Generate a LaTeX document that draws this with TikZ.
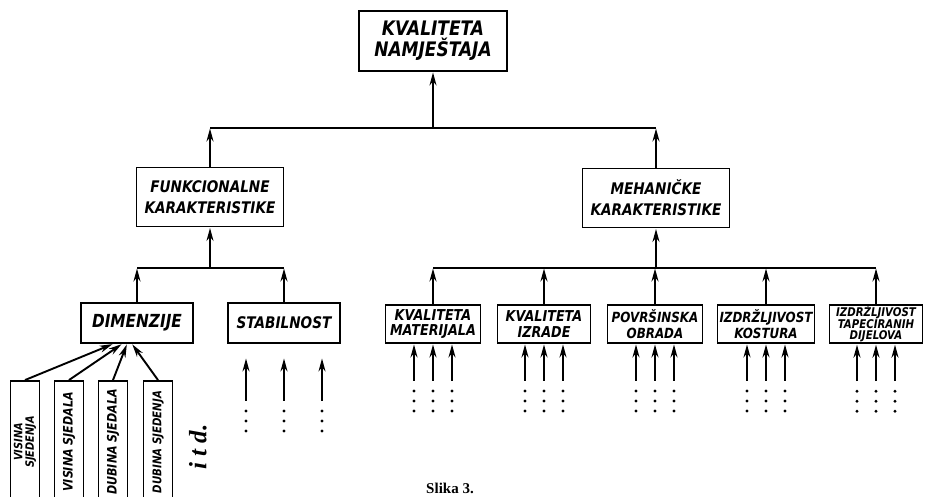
\documentclass[tikz,border=0pt]{standalone}
\usepackage{fontspec}
\setsansfont{DejaVu Sans}[FakeStretch=0.85]
\setmainfont{Liberation Serif}
\usetikzlibrary{arrows.meta,positioning,calc}

\begin{document}
\begin{tikzpicture}[x=1pt,y=-1pt,>={Stealth[length=13pt,width=7pt]},
  line width=1.9pt,shorten >=0.5pt,
  box/.style={draw,rectangle,inner sep=1pt,align=center,
  font=\sffamily\bfseries\itshape},
  topbox/.style={box,minimum width=148pt,minimum height=60pt,
  font=\sffamily\bfseries\itshape\fontsize{20}{21}\selectfont},
  midbox/.style={box,minimum width=147pt,minimum height=59pt,
  font=\sffamily\bfseries\itshape\fontsize{16}{21}\selectfont},
  subbox/.style={box,minimum width=112pt,minimum height=40pt,
  font=\sffamily\bfseries\itshape\fontsize{16}{17}\selectfont},
  leafbox/.style={box,minimum width=95pt,minimum height=38pt,
  font=\sffamily\bfseries\itshape\fontsize{15}{15.5}\selectfont},
  standbox/.style={box,rotate=90,minimum width=122pt,minimum height=29pt,
  font=\sffamily\bfseries\itshape\fontsize{13}{13}\selectfont}]

  \useasboundingbox (0,0) rectangle (925,497);

  % levels from the top down
  \node[topbox] (kn) at (433,41) {KVALITETA\\NAMJEŠTAJA};
  \node[midbox] (fk) at (210,197) {FUNKCIONALNE\\KARAKTERISTIKE};
  \node[midbox] (mk) at (656,198) {MEHANIČKE\\KARAKTERISTIKE};

  \node[subbox, font=\sffamily\bfseries\itshape\fontsize{18}{18}\selectfont]
    (dim) at (137,323) {DIMENZIJE};
  \node[subbox] (stab) at (284,323) {STABILNOST};

  \node[leafbox] (km) at (433,324) {KVALITETA\\MATERIJALA};
  \node[leafbox, minimum width=93pt] (ki) at (544,324) {KVALITETA\\IZRADE};
  \node[leafbox, font=\sffamily\bfseries\itshape\fontsize{14}{15.5}\selectfont]
    (po) at (655,324) {POVRŠINSKA\\OBRADA};
  \node[leafbox, minimum width=97pt,
    font=\sffamily\bfseries\itshape\fontsize{14}{15.5}\selectfont]
    (ik) at (766,324) {IZDRŽLJIVOST\\KOSTURA};
  \node[leafbox, minimum width=93pt,
    font=\sffamily\bfseries\itshape\fontsize{12}{11.5}\selectfont]
    (it) at (876,324) {IZDRŽLJIVOST\\TAPECIRANIH\\DIJELOVA};

  \node[standbox, font=\sffamily\bfseries\itshape\fontsize{11.5}{11.5}\selectfont]
    (vs) at (25,442) {VISINA\\SJEDENJA};
  \node[standbox] (vsl) at (69,442) {VISINA SJEDALA};
  \node[standbox] (dsl) at (113,442) {DUBINA SJEDALA};
  \node[standbox, font=\sffamily\bfseries\itshape\fontsize{12}{12}\selectfont]
    (ds) at (158,442) {DUBINA SJEDENJA};

  \node[rotate=90,font=\rmfamily\bfseries\itshape\fontsize{25}{25}\selectfont]
    (itd) at (198,447) {i t d.};
  \node[anchor=base,font=\rmfamily\bfseries\fontsize{15}{16}\selectfont]
    (cap) at (450,493) {Slika 3.};

  % upper bus
  \coordinate (b0) at (433,128);
  \draw[->] (b0) -- (kn.south);
  \draw (fk.north |- b0) -- (mk.north |- b0);
  \draw[->] (fk.north) -- (fk.north |- b0);
  \draw[->] (mk.north) -- (mk.north |- b0);

  % left bus
  \coordinate (b1) at (210,268);
  \draw[->] (b1) -- (fk.south);
  \draw (dim.north |- b1) -- (stab.north |- b1);
  \foreach \n in {dim,stab}
    \draw[->] (\n.north) -- (\n.north |- b1);

  % right bus
  \coordinate (b2) at (656,268);
  \draw[->] (b2) -- (mk.south);
  \draw (km.north |- b2) -- (it.north |- b2);
  \foreach \n in {km,ki,po,ik,it}
    \draw[->] (\n.north) -- (\n.north |- b2);

  % dimension boxes into DIMENZIJE
  \draw[->] (vs.east) -- ([xshift=-24pt]dim.south);
  \draw[->] (vsl.east) -- ([xshift=-15pt]dim.south);
  \draw[->] (dsl.east) -- ([xshift=-10pt]dim.south);
  \draw[->] (ds.east) -- ([xshift=-5pt]dim.south);

  % open inputs with dots
  \foreach \d in {-38,0,38}{
    \draw[->] ($(stab.south)+(\d,57)$) -- ($(stab.south)+(\d,14)$);
    \foreach \k in {67,77,87}
      \fill ($(stab.south)+(\d,\k)$) circle (1.6pt);
  }
  \foreach \n in {km,ki,po,ik,it}
    \foreach \d in {-19,0,19}{
      \draw[->] ($(\n.south)+(\d,37)$) -- ($(\n.south)+(\d,0)$);
      \foreach \k in {47,57,67}
        \fill ($(\n.south)+(\d,\k)$) circle (1.6pt);
    }
\end{tikzpicture}
\end{document}
